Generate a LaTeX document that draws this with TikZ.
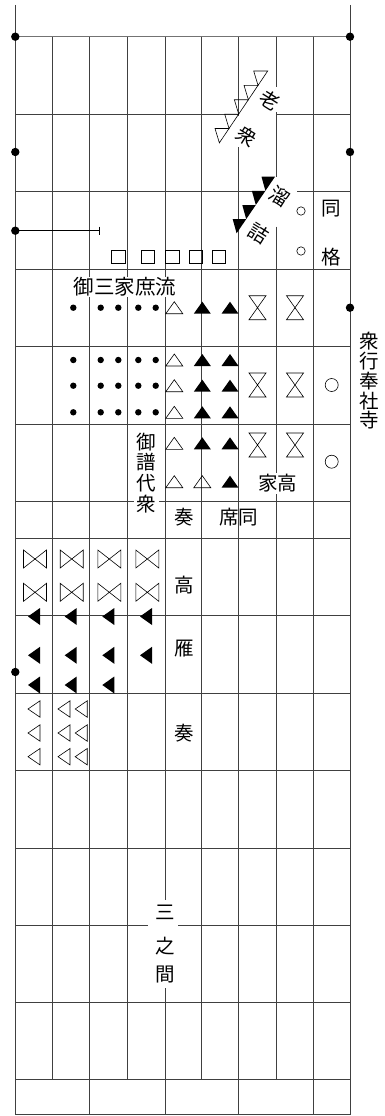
\documentclass[tikz,border=0pt]{standalone}
\usepackage{fontspec}
\newfontfamily\cjk{Noto Sans CJK JP}
\begin{document}
\begin{tikzpicture}[x=1pt,y=-1pt,
  grid/.style={line width=0.6pt, draw=black!75},
  sym/.style={line width=0.6pt, draw=black},
  lbl/.style={font=\cjk\fontsize{19.5}{19.5}\selectfont, inner sep=0.5pt},
  lblw/.style={lbl, fill=white, inner sep=1.5pt},
  bdot/.style={circle, fill=black, inner sep=0pt, minimum size=8.4pt},
  hg/.pic={\draw[sym] (-8.5,-12) -- (8.5,-12) -- (-8.5,12) -- (8.5,12) -- cycle;},
  bt/.pic={\draw[sym] (-11.5,-9) -- (-11.5,9) -- (11.5,-9) -- (11.5,9) -- cycle;},
  tuo/.pic={\draw[sym] (-8.5,6) -- (8.5,6) -- (0,-6) -- cycle;},
  tuf/.pic={\fill (-8.5,6) -- (8.5,6) -- (0,-6) -- cycle;},
  tlf/.pic={\fill (-6,0) -- (6,-8.5) -- (6,8.5) -- cycle;},
  tlo/.pic={\draw[sym] (-6,0) -- (6,-8.2) -- (6,8.2) -- cycle;},
  sqr/.pic={\draw[sym] (-6.6,-6.6) rectangle (6.6,6.6);}
]
\useasboundingbox (0,0) rectangle (385,1116);
\fill[white] (0,0) rectangle (385,1116);

% ---- outer verticals
\draw[grid] (15.3,5) -- (15.3,1114.5);
\draw[grid] (350,5) -- (350,1114.5);
% ---- horizontals
\draw[grid, draw=black!55] (15.3,36.7) -- (350,36.7);
\draw[grid] (15.3,114.1) -- (238.7,114.1) (276,114.1) -- (350,114.1);
\draw[grid] (15.3,191.6) -- (265.4,191.6) (297.3,191.6) -- (350,191.6);
\foreach \yy in {269.0,346.4,423.8,501.2,538.3,615.7,693.1,770.5,847.9,1002.7,1079.5,1114.5}
  \draw[grid] (15.3,\yy) -- (350,\yy);
\draw[grid] (15.3,925.3) -- (148.3,925.3) (178.3,925.3) -- (350,925.3);
% ---- inner verticals
\foreach \xx in {52.3,127.7,201.7}
  \draw[grid] (\xx,36.7) -- (\xx,1079.5);
\foreach \xx in {89.7,312.8}
  \draw[grid] (\xx,36.7) -- (\xx,1114.5);
\draw[grid] (165.3,36.7) -- (165.3,900) (165.3,988) -- (165.3,1114.5);
\draw[grid] (238.7,36.7) -- (238.7,116) (238.7,147) -- (238.7,1114.5);
\draw[grid] (276,36.7) -- (276,87) (276,112) -- (276,177) (276,226.7) -- (276,1079.5);

% ---- sawtooth (open)
\foreach \i in {0,...,4} {
  \pgfmathsetmacro\xa{267.7-9.67*\i}
  \pgfmathsetmacro\ya{71+14.37*\i}
  \draw[sym] (\xa,\ya) -- ({\xa-14},\ya) -- ({\xa-9.67},{\ya+14.37}) -- cycle;
}
% ---- sawtooth (filled)
\foreach \i in {0,...,3} {
  \pgfmathsetmacro\xb{275-9.6*\i}
  \pgfmathsetmacro\yb{176.7+14.15*\i}
  \fill (\xb,\yb) -- ({\xb-13.5},\yb) -- ({\xb-9.6},{\yb+14.15}) -- cycle;
}

% ---- rotated labels
\node[lbl, rotate=-32] (roA) at (270,100) {老};
\node[lbl, rotate=-32] (roB) at (246.7,136.7) {衆};
\node[lbl, rotate=-32] (taA) at (280,196.7) {溜};
\node[lbl, rotate=-32] (taB) at (258.3,233.3) {詰};

% ---- border dots
\node[bdot] (ld1) at (15.3,36.7) {};
\node[bdot] (ld2) at (15.3,152) {};
\node[bdot] (ld3) at (15.3,230.7) {};
\node[bdot] (ld4) at (15.3,672) {};
\node[bdot] (rd1) at (350,36.7) {};
\node[bdot] (rd2) at (350,152) {};
\node[bdot] (rd3) at (350,307.7) {};
\coordinate (tend) at (99,230.7);
\draw[sym] (ld3.center) -- (tend);
\draw[sym] (99,226.7) -- (99,235);

% ---- squares
\foreach \xx in {118.3,148,172.3,195.7,219}
  \pic at (\xx,256.7) {sqr};

% ---- small circles, 同 格
\draw[sym] (301,211) circle[radius=4.2pt];
\draw[sym] (301,251) circle[radius=4.2pt];
\node[lbl] (dk1) at (331,209) {同};
\node[lbl] (dk2) at (331,256.7) {格};

% ---- 御三家庶流
\node[lblw, font=\cjk\fontsize{20.5}{20.5}\selectfont, inner sep=1pt] (gos) at (125,287) {御三家庶流};

% ---- dots
\foreach \yy in {307.7,360,385.7,412.3}
  \foreach \xx in {73.3,100.7,118.3,138.3,155.7}
    \fill (\xx,\yy) circle[radius=3.2pt];

% ---- up triangles
\foreach \yy in {307.7,360,385.7,412.3,443.3} {
  \pic at (174.3,\yy) {tuo};
  \pic at (202.3,\yy) {tuf};
  \pic at (230,\yy) {tuf};
}
\pic at (174.3,481.7) {tuo};
\pic at (202.3,481.7) {tuo};
\pic at (230,481.7) {tuf};

% ---- hourglasses
\foreach \yy in {307.7,385,445} {
  \pic at (257.5,\yy) {hg};
  \pic at (295,\yy) {hg};
}
\draw[sym] (331.7,385) circle[radius=6.5pt];
\draw[sym] (331.7,461.7) circle[radius=6.5pt];

% ---- 御譜代衆
\node[lbl] (fd1) at (146.7,441.7) {御};
\node[lbl] (fd2) at (146.7,462.5) {譜};
\node[lbl] (fd3) at (146.7,483.5) {代};
\node[lblw, inner sep=2.5pt] (fd4) at (146.7,504.5) {衆};
\node[lblw] (kk) at (277.5,483.3) {家高};
\node[lbl] (so1) at (184,516.7) {奏};
\node[lbl] (sd) at (238.7,516.7) {席同};

% ---- right label
\foreach \c [count=\k] in {衆,行,奉,社,寺}
  \node[lbl] (rt\k) at (369,{341.5+19.7*(\k-1)}) {\c};

% ---- bowties
\foreach \xx in {35,71.7,109.3,147.3} {
  \pic at (\xx,559) {bt};
  \pic at (\xx,592.3) {bt};
}
% ---- left filled triangles
\foreach \xx in {34,70.7,108.3,146} {
  \pic at (\xx,616.5) {tlf};
  \pic at (\xx,655.3) {tlf};
}
\foreach \xx in {34,70.7,108.3}
  \pic at (\xx,685) {tlf};
% ---- left open triangles
\foreach \yy in {709,733,756.7} {
  \pic at (34,\yy) {tlo};
  \pic at (64,\yy) {tlo};
  \pic at (81.2,\yy) {tlo};
}
\node[lbl] (ta) at (184,585) {高};
\node[lbl] (ga) at (184,649) {雁};
\node[lbl] (so2) at (184,733) {奏};

% ---- 三之間
\node[lbl] (sn1) at (165.3,912.5) {三};
\node[lbl] (sn2) at (165.3,946) {之};
\node[lbl] (sn3) at (165.3,975) {間};
\end{tikzpicture}
\end{document}
